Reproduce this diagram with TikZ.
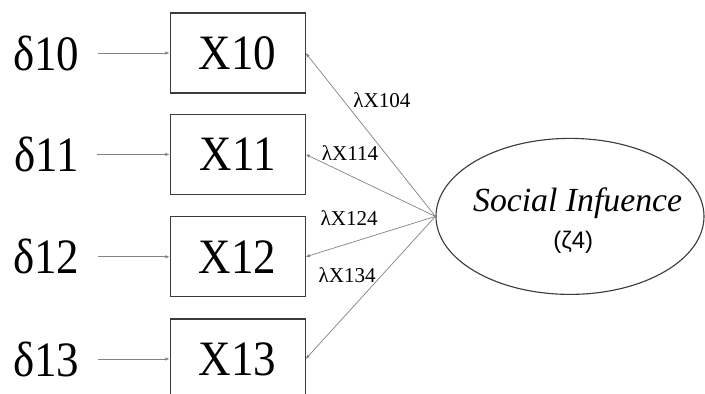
\documentclass[tikz,border=0pt]{standalone}
\usepackage{fontspec}
\setmainfont{Liberation Serif}
\newfontfamily\zetafont{Liberation Sans}
\usetikzlibrary{positioning,shapes.geometric,arrows.meta}
\definecolor{figGris}{RGB}{130,130,130}
\definecolor{figTrait}{RGB}{60,60,60}

\begin{document}
\begin{tikzpicture}[
  x=1cm, y=1cm, every node/.style={inner sep=0pt},
  obs/.style={draw=figTrait, line width=0.8pt, minimum width=3.375cm,
              minimum height=2cm, font=\fontsize{32}{36}\selectfont},
  err/.style={font=\fontsize{32}{36}\selectfont},
  lat/.style={draw=figTrait, line width=0.8pt, ellipse, minimum width=6.7cm,
              minimum height=3.9cm},
  fl/.style={-{Latex[length=3pt,width=2.5pt]}, line width=0.5pt, figGris},
  ld/.style={font=\fontsize{15}{17}\selectfont}
]
\useasboundingbox (0,0) rectangle (17.625,9.85);

% Indicateurs et termes d'erreur
\node[obs] (x10) at (5.94,8.525) {\scalebox{1}[1.1]{X10}};
\node[obs] (x11) at (5.94,5.99)  {\scalebox{1}[1.1]{X11}};
\node[obs] (x12) at (5.94,3.43)  {\scalebox{1}[1.1]{X12}};
\node[obs] (x13) at (5.94,0.875) {\scalebox{1}[1.1]{X13}};

\node[err] (d10) at (1.16,8.525) {\scalebox{1}[1.1]{δ10}};
\node[err] (d11) at (1.16,5.99)  {\scalebox{1}[1.1]{δ11}};
\node[err] (d12) at (1.16,3.43)  {\scalebox{1}[1.1]{δ12}};
\node[err] (d13) at (1.16,0.875) {\scalebox{1}[1.1]{δ13}};

\foreach \i in {10,11,12,13}
  \draw[fl, shorten <=0.45cm] (d\i.east) -- (x\i.west);

% Variable latente
\node[lat] (soc) at (14.25,4.44) {};
\node[font=\fontsize{24}{27}\selectfont\itshape] (socl) at (14.44,4.78) {Social Infuence};
\node[font=\zetafont\fontsize{17}{19}\selectfont] (zeta) at (14.33,3.8) {(ζ4)};

\foreach \i in {10,11,12,13}
  \draw[fl] (soc.west) -- (x\i.east);

\node[ld] (l10) at (9.55,7.35) {λX104};
\node[ld] (l11) at (8.75,6.03) {λX114};
\node[ld] (l12) at (8.73,4.40) {λX124};
\node[ld] (l13) at (8.68,2.98) {λX134};
\end{tikzpicture}
\end{document}
